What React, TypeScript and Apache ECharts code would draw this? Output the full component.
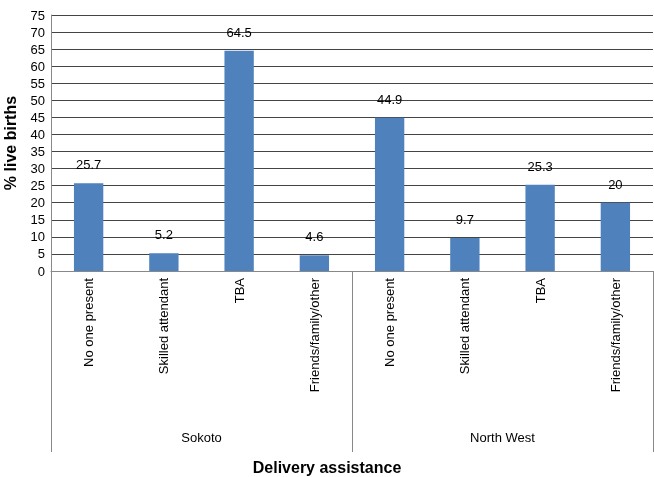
import React, { useEffect, useRef } from "react";
import * as echarts from "echarts";

const categories = [
  "No one present", "Skilled attendant", "TBA", "Friends/family/other",
  "No one present", "Skilled attendant", "TBA", "Friends/family/other",
];
const groups = ["Sokoto", "North West"];
const values = [25.7, 5.2, 64.5, 4.6, 44.9, 9.7, 25.3, 20];

export default function App() {
  const ref = useRef<HTMLDivElement>(null);
  useEffect(() => {
    const chart = echarts.init(ref.current!, undefined, { renderer: "svg" });
    const font = "Liberation Sans, Arial, sans-serif";
    chart.setOption({
      animation: false,
      title: {
        text: "Delivery assistance",
        left: "center",
        top: 458,
        padding: 0,
        textStyle: { fontFamily: font, fontSize: 16, fontWeight: "bold", color: "#000", lineHeight: 18 },
      },
      grid: { left: 51, right: 1, top: 15, bottom: 206, outerBoundsMode: "none", containLabel: false },
      xAxis: [
        {
          type: "category",
          data: categories,
          position: "bottom",
          axisLine: { lineStyle: { color: "#888", width: 1 } },
          axisTick: { show: false },
          axisLabel: { rotate: 90, margin: 7, fontFamily: font, fontSize: 13, color: "#000", interval: 0 },
        },
        {
          type: "category",
          data: groups,
          position: "bottom",
          axisLine: { show: false },
          axisTick: { show: true, length: 181, inside: false, lineStyle: { color: "#888", width: 1 } },
          axisLabel: { margin: 160, fontFamily: font, fontSize: 13, color: "#000" },
        },
      ],
      yAxis: {
        type: "value",
        min: 0,
        max: 75,
        interval: 5,
        name: "% live births",
        nameLocation: "middle",
        nameGap: 33,
        nameTextStyle: { fontFamily: font, fontSize: 16, fontWeight: "bold", color: "#000" },
        axisLine: { show: true, lineStyle: { color: "#888" } },
        axisTick: { show: false },
        axisLabel: { fontFamily: font, fontSize: 13, color: "#000", margin: 6 },
        splitLine: { lineStyle: { color: "#444", width: 1 } },
      },
      series: [
        {
          type: "bar",
          data: values,
          xAxisIndex: 0,
          barWidth: "39%",
          itemStyle: { color: "#4F81BD" },
          label: {
            show: true,
            position: "top",
            distance: 12,
            fontFamily: font,
            fontSize: 13,
            color: "#000",
          },
        },
      ],
    });
    return () => chart.dispose();
  }, []);
  return <div ref={ref} style={{ position: "fixed", left: 0, top: 0, width: 654, height: 477 }} />;
}
